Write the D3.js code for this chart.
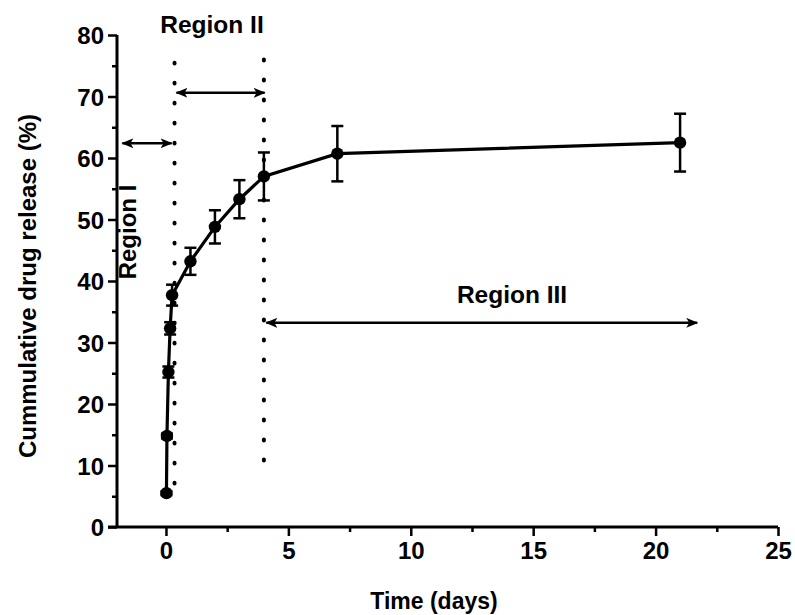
<!DOCTYPE html>
<html><head><meta charset="utf-8">
<script src="https://cdn.jsdelivr.net/npm/d3@7"></script>
<style>
html,body{margin:0;padding:0;background:#fff;}
svg{display:block;}
text{font-family:"Liberation Sans",Arial,sans-serif;font-weight:bold;fill:#000;}
</style></head>
<body>
<svg id="chart" width="795" height="615"></svg>
<script>
// ---- data ----
const timeDays = [0.02, 0.04, 0.1, 0.17, 0.25, 1, 2, 3, 4, 7, 21];
const release  = [5.5, 14.8, 25.2, 32.3, 37.7, 43.2, 48.8, 53.3, 57.0, 60.7, 62.5];
const errorSD  = [0.3, 0.4, 0.9, 1.0, 1.7, 2.2, 2.7, 3.1, 3.9, 4.5, 4.7];
const xTicks = [0, 5, 10, 15, 20, 25];
const yTicks = [0, 10, 20, 30, 40, 50, 60, 70, 80];
// region boundaries (dotted lines): x, y from, y to
const boundX = [0.35, 4];
const boundY0 = [5, 9.5];
const boundY1 = [75.5, 76];
// region arrows
const regionNames = ["Region I", "Region II", "Region III"];
const arrowX0 = [-1.78, 0.43, 4.1];
const arrowX1 = [0.23, 4.03, 21.7];
const arrowY  = [62.4, 70.6, 33.2];

const svg = d3.select("#chart");
const x = d3.scaleLinear().domain([-2, 25]).range([117, 778]);
const y = d3.scaleLinear().domain([0, 80]).range([527, 35]);

// defs arrowheads
const defs = svg.append("defs");
defs.append("marker").attr("id","ah").attr("viewBox","0 0 12 10").attr("refX",11).attr("refY",5)
  .attr("markerWidth",12).attr("markerHeight",10).attr("markerUnits","userSpaceOnUse").attr("orient","auto-start-reverse")
  .append("path").attr("d","M0,0 L12,5 L0,10 L3,5 Z").attr("fill","#000");

// axes
const gx = svg.append("g").attr("transform",`translate(0,${y(0)})`);
gx.call(d3.axisBottom(x).tickValues(xTicks).tickSize(9).tickFormat(d3.format("d")));
const gxm = svg.append("g").attr("transform",`translate(0,${y(0)})`);
gxm.call(d3.axisBottom(x).tickValues(d3.range(2.5, 25, 5)).tickSize(5).tickFormat(""));
const gy = svg.append("g").attr("transform",`translate(${x(-2)},0)`);
gy.call(d3.axisLeft(y).tickValues(yTicks).tickSize(9).tickFormat(d3.format("d")));
const gym = svg.append("g").attr("transform",`translate(${x(-2)},0)`);
gym.call(d3.axisLeft(y).tickValues(d3.range(5, 80, 10)).tickSize(5).tickFormat(""));
[gx,gxm,gy,gym].forEach(g=>{
  g.select(".domain").attr("stroke","#000").attr("stroke-width",3);
  g.selectAll(".tick line").attr("stroke","#000").attr("stroke-width",2.5);
});
gxm.select(".domain").remove(); gym.select(".domain").remove();
gx.select(".domain").attr("d",`M${x(-2)-9},0H${x(25)}`);
gy.select(".domain").attr("d",`M0,${y(0)}V${y(80)}`);
gx.selectAll(".tick text").attr("font-size",24).attr("dy","0.71em").attr("y",15);
gy.selectAll(".tick text").attr("font-size",24).attr("x",-13).attr("dy","0.36em");

// axis titles
svg.append("text").attr("x",434).attr("y",609).attr("text-anchor","middle").attr("font-size",23).text("Time (days)");
svg.append("text").attr("transform",`translate(36,286) rotate(-90)`).attr("text-anchor","middle").attr("font-size",24).text("Cummulative drug release (%)");

// dotted boundaries
boundX.forEach((bx,i)=>{
  svg.append("line").attr("x1",x(bx)).attr("x2",x(bx)).attr("y1",y(boundY1[i])).attr("y2",y(boundY0[i]))
    .attr("stroke","#000").attr("stroke-width",4).attr("stroke-linecap","round").attr("stroke-dasharray","0.8 19.2");
});

// arrows
regionNames.forEach((n,i)=>{
  svg.append("line").attr("x1",x(arrowX0[i])).attr("x2",x(arrowX1[i])).attr("y1",y(arrowY[i])).attr("y2",y(arrowY[i]))
    .attr("stroke","#000").attr("stroke-width",2.5).attr("marker-start","url(#ah)").attr("marker-end","url(#ah)");
});

// region labels
svg.append("text").attr("transform",`translate(${x(-2)+19},232) rotate(-90)`).attr("text-anchor","middle").attr("font-size",24).text(regionNames[0]);
svg.append("text").attr("x",212).attr("y",33).attr("text-anchor","middle").attr("font-size",24.5).text(regionNames[1]);
svg.append("text").attr("x",512).attr("y",303).attr("text-anchor","middle").attr("font-size",24.5).text(regionNames[2]);

// data line
const pts = timeDays.map((t,i)=>({t, v:release[i], e:errorSD[i]}));
svg.append("path").datum(pts).attr("fill","none").attr("stroke","#000").attr("stroke-width",3.2)
  .attr("d", d3.line().x(d=>x(d.t)).y(d=>y(d.v)));
// error bars
const eb = svg.append("g").attr("stroke","#000").attr("stroke-width",2.5);
pts.forEach(d=>{
  const cx = x(d.t);
  eb.append("line").attr("x1",cx).attr("x2",cx).attr("y1",y(d.v+d.e)).attr("y2",y(d.v-d.e));
  eb.append("line").attr("x1",cx-6).attr("x2",cx+6).attr("y1",y(d.v+d.e)).attr("y2",y(d.v+d.e));
  eb.append("line").attr("x1",cx-6).attr("x2",cx+6).attr("y1",y(d.v-d.e)).attr("y2",y(d.v-d.e));
});
svg.append("g").selectAll("circle").data(pts).join("circle")
  .attr("cx",d=>x(d.t)).attr("cy",d=>y(d.v)).attr("r",6.2).attr("fill","#000");
</script>
</body></html>
